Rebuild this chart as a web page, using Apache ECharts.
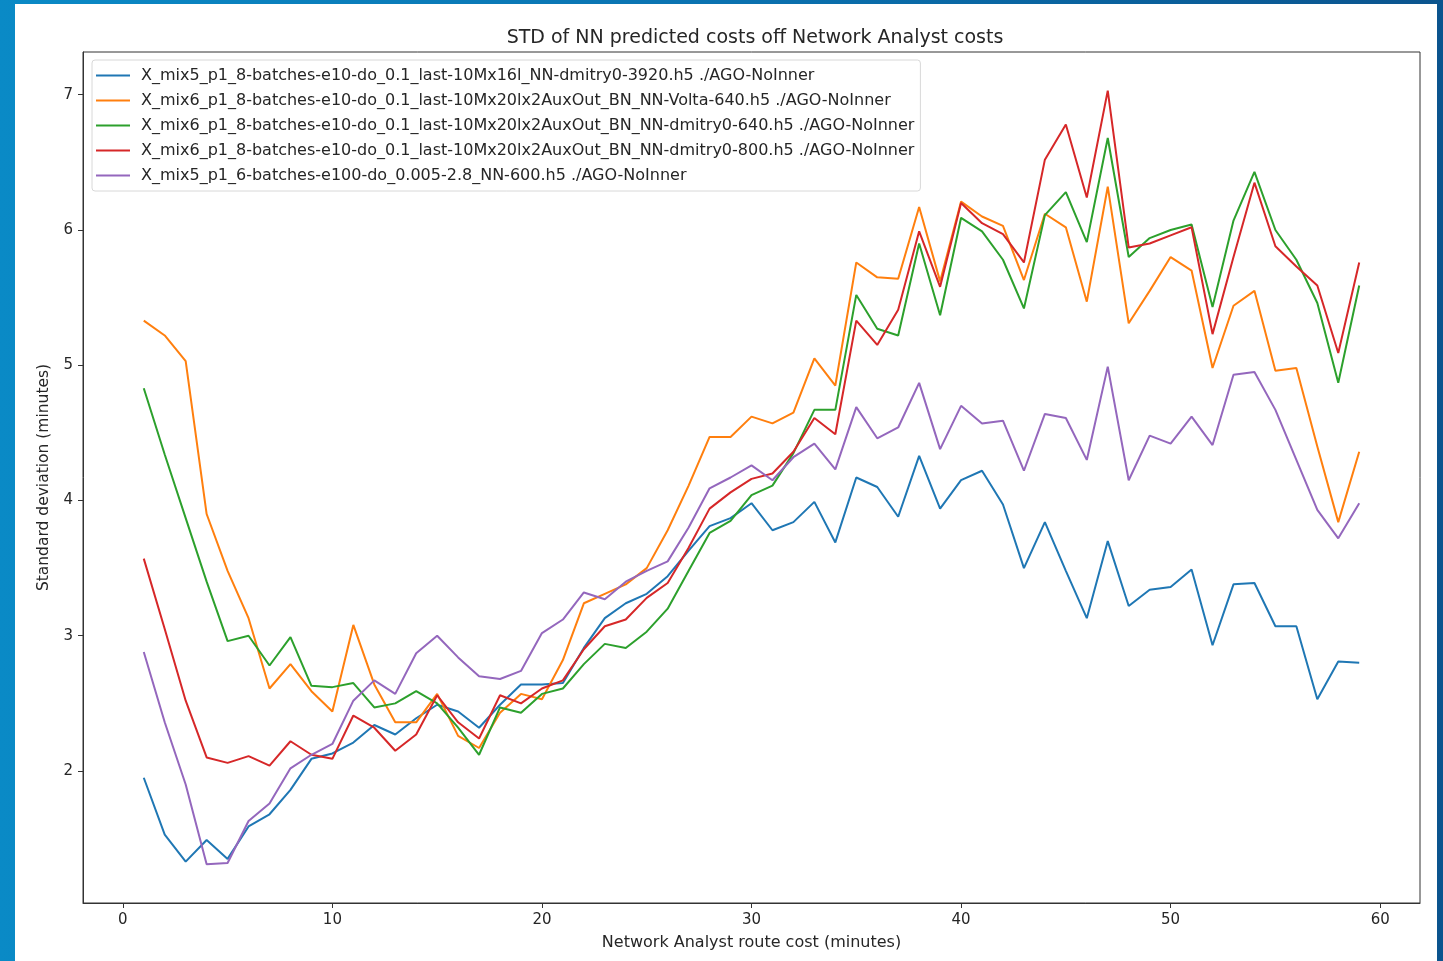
<!DOCTYPE html>
<html>
<head>
<meta charset="utf-8">
<script src="https://cdn.jsdelivr.net/npm/echarts@6/dist/echarts.min.js"></script>
<style>
  html, body {
    margin: 0;
    padding: 0;
    width: 1443px;
    height: 961px;
    overflow: hidden;
    background: linear-gradient(to right, #0a8ac6 0%, #0a72b0 50%, #0b548e 100%);
  }
  #chart {
    position: absolute;
    left: 15px;
    top: 4px;
    width: 1422px;
    height: 957px;
    background: #ffffff;
  }
</style>
</head>
<body>
<div id="chart"></div>
<script>
// route cost in minutes (x)
const routeCost = [1, 2, 3, 4, 5, 6, 7, 8, 9, 10, 11, 12, 13, 14, 15, 16, 17, 18, 19, 20,
  21, 22, 23, 24, 25, 26, 27, 28, 29, 30, 31, 32, 33, 34, 35, 36, 37, 38, 39, 40,
  41, 42, 43, 44, 45, 46, 47, 48, 49, 50, 51, 52, 53, 54, 55, 56, 57, 58, 59];

const seriesNames = [
  "X_mix5_p1_8-batches-e10-do_0.1_last-10Mx16l_NN-dmitry0-3920.h5 ./AGO-NoInner",
  "X_mix6_p1_8-batches-e10-do_0.1_last-10Mx20lx2AuxOut_BN_NN-Volta-640.h5 ./AGO-NoInner",
  "X_mix6_p1_8-batches-e10-do_0.1_last-10Mx20lx2AuxOut_BN_NN-dmitry0-640.h5 ./AGO-NoInner",
  "X_mix6_p1_8-batches-e10-do_0.1_last-10Mx20lx2AuxOut_BN_NN-dmitry0-800.h5 ./AGO-NoInner",
  "X_mix5_p1_6-batches-e100-do_0.005-2.8_NN-600.h5 ./AGO-NoInner",
];

const stdDmitry3920 = [1.95, 1.53, 1.33, 1.49, 1.35, 1.59, 1.68, 1.86, 2.09, 2.13,
  2.21, 2.34, 2.27, 2.39, 2.49, 2.44, 2.32, 2.49, 2.64, 2.64,
  2.65, 2.91, 3.13, 3.24, 3.31, 3.44, 3.63, 3.81, 3.87, 3.98,
  3.78, 3.84, 3.99, 3.69, 4.17, 4.10, 3.88, 4.33, 3.94, 4.15,
  4.22, 3.97, 3.50, 3.84, 3.48, 3.13, 3.70, 3.22, 3.34, 3.36,
  3.49, 2.93, 3.38, 3.39, 3.07, 3.07, 2.53, 2.81, 2.80];

const stdVolta640 = [5.33, 5.22, 5.03, 3.90, 3.48, 3.13, 2.61, 2.79, 2.59, 2.44,
  3.08, 2.64, 2.36, 2.36, 2.57, 2.26, 2.17, 2.43, 2.57, 2.53,
  2.82, 3.24, 3.31, 3.38, 3.50, 3.78, 4.11, 4.47, 4.47, 4.62,
  4.57, 4.65, 5.05, 4.85, 5.76, 5.65, 5.64, 6.17, 5.62, 6.21,
  6.10, 6.03, 5.63, 6.12, 6.02, 5.47, 6.32, 5.31, 5.55, 5.80,
  5.70, 4.98, 5.44, 5.55, 4.96, 4.98, 4.40, 3.84, 4.36];

const stdDmitry640 = [4.83, 4.34, 3.87, 3.40, 2.96, 3.00, 2.78, 2.99, 2.63, 2.62,
  2.65, 2.47, 2.50, 2.59, 2.50, 2.32, 2.12, 2.47, 2.43, 2.57,
  2.61, 2.79, 2.94, 2.91, 3.03, 3.20, 3.48, 3.76, 3.85, 4.04,
  4.11, 4.35, 4.67, 4.67, 5.52, 5.27, 5.22, 5.90, 5.37, 6.09,
  5.99, 5.78, 5.42, 6.11, 6.28, 5.91, 6.68, 5.80, 5.94, 6.00,
  6.04, 5.43, 6.07, 6.43, 6.00, 5.78, 5.46, 4.87, 5.59];

const stdDmitry800 = [3.57, 3.05, 2.52, 2.10, 2.06, 2.11, 2.04, 2.22, 2.12, 2.09,
  2.41, 2.32, 2.15, 2.27, 2.56, 2.36, 2.24, 2.56, 2.50, 2.61,
  2.67, 2.90, 3.07, 3.12, 3.28, 3.39, 3.65, 3.94, 4.06, 4.16,
  4.20, 4.36, 4.61, 4.49, 5.33, 5.15, 5.41, 5.99, 5.58, 6.20,
  6.05, 5.97, 5.76, 6.52, 6.78, 6.24, 7.03, 5.87, 5.90, 5.96,
  6.02, 5.23, 5.80, 6.35, 5.88, 5.73, 5.59, 5.09, 5.76];

const stdNN600 = [2.88, 2.36, 1.90, 1.31, 1.32, 1.63, 1.76, 2.02, 2.12, 2.20,
  2.52, 2.67, 2.57, 2.87, 3.00, 2.84, 2.70, 2.68, 2.74, 3.02,
  3.12, 3.32, 3.27, 3.40, 3.48, 3.55, 3.80, 4.09, 4.17, 4.26,
  4.15, 4.32, 4.42, 4.23, 4.69, 4.46, 4.54, 4.87, 4.38, 4.70,
  4.57, 4.59, 4.22, 4.64, 4.61, 4.30, 4.99, 4.15, 4.48, 4.42,
  4.62, 4.41, 4.93, 4.95, 4.67, 4.30, 3.93, 3.72, 3.98];

const xTicks = [0, 10, 20, 30, 40, 50, 60];
const yTicks = [2, 3, 4, 5, 6, 7];

const lineColors = ["#1f77b4", "#ff7f0e", "#2ca02c", "#d62728", "#9467bd"];
const allSeries = [stdDmitry3920, stdVolta640, stdDmitry640, stdDmitry800, stdNN600];

const textColor = "#262626";
const font = "DejaVu Sans";

const axisCommon = {
  type: "value",
  axisLine: { show: true, onZero: false, lineStyle: { color: "#333", width: 1 } },
  axisTick: { show: true, inside: false, length: 5, lineStyle: { color: "#333" } },
  splitLine: { show: false },
};

const chart = echarts.init(document.getElementById("chart"), null, { renderer: "canvas" });

const option = {
  animation: false,
  color: lineColors,
  title: {
    text: "STD of NN predicted costs off Network Analyst costs",
    left: 735,
    top: 20,
    textAlign: "center",
    textStyle: { fontFamily: font, fontSize: 19, fontWeight: "normal", color: textColor },
  },
  grid: {
    left: 68,
    top: 48,
    width: 1337,
    height: 851,
    show: true,
    borderColor: "#333",
    borderWidth: 1,
    backgroundColor: "#fff",
  },
  legend: {
    orient: "vertical",
    left: 77,
    top: 56,
    padding: [3, 6, 3, 4],
    itemGap: 0,
    itemWidth: 34,
    itemHeight: 2,
    icon: "rect",
    backgroundColor: "#fff",
    borderColor: "#d8d8d8",
    borderWidth: 1,
    borderRadius: 3,
    textStyle: {
      fontFamily: font,
      fontSize: 16,
      color: textColor,
      lineHeight: 25,
      padding: [0, 0, 0, 6],
    },
    data: seriesNames,
  },
  xAxis: {
    ...axisCommon,
    min: -1.9,
    max: 61.9,
    name: "Network Analyst route cost (minutes)",
    nameLocation: "middle",
    nameGap: 32,
    nameTextStyle: { fontFamily: font, fontSize: 16, color: textColor },
    axisTick: { ...axisCommon.axisTick, customValues: xTicks },
    axisLabel: { customValues: xTicks, margin: 10, fontFamily: font, fontSize: 15, color: textColor },
  },
  yAxis: {
    ...axisCommon,
    min: 1.024,
    max: 7.316,
    name: "Standard deviation (minutes)",
    nameLocation: "middle",
    nameGap: 31,
    nameTextStyle: { fontFamily: font, fontSize: 15.5, color: textColor },
    axisTick: { ...axisCommon.axisTick, customValues: yTicks },
    axisLabel: { customValues: yTicks, margin: 10, fontFamily: font, fontSize: 15, color: textColor },
  },
  series: allSeries.map((vals, i) => ({
    name: seriesNames[i],
    type: "line",
    showSymbol: false,
    symbol: "none",
    lineStyle: { width: 2, color: lineColors[i] },
    itemStyle: { color: lineColors[i] },
    data: vals.map((v, j) => [routeCost[j], v]),
  })),
};

chart.setOption(option);
</script>
</body>
</html>
